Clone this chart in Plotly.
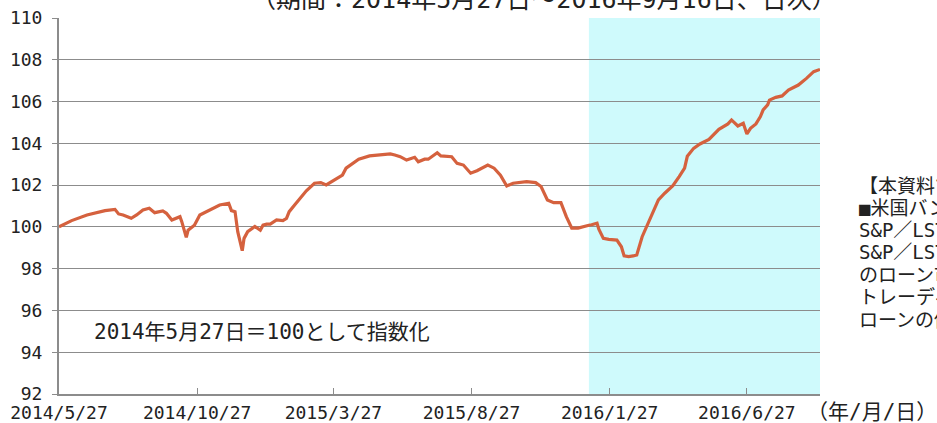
import plotly.graph_objects as go

dates = [
    "2014-05-27", "2014-06-10", "2014-06-27", "2014-07-17", "2014-07-28", "2014-08-01",
    "2014-08-06", "2014-08-15", "2014-08-21", "2014-08-28", "2014-09-04", "2014-09-10",
    "2014-09-19", "2014-09-23", "2014-09-29", "2014-10-03", "2014-10-08", "2014-10-10",
    "2014-10-15", "2014-10-17", "2014-10-24", "2014-10-30", "2014-11-06", "2014-11-14",
    "2014-11-21", "2014-12-01", "2014-12-04", "2014-12-08", "2014-12-11", "2014-12-16",
    "2014-12-18", "2014-12-22", "2014-12-30", "2015-01-05", "2015-01-08", "2015-01-12",
    "2015-01-16", "2015-01-23", "2015-01-30", "2015-02-03", "2015-02-06", "2015-02-12",
    "2015-02-18", "2015-02-25", "2015-03-06", "2015-03-13", "2015-03-19", "2015-03-27",
    "2015-04-06", "2015-04-10", "2015-04-17", "2015-04-24", "2015-05-06", "2015-05-18",
    "2015-05-29", "2015-06-03", "2015-06-09", "2015-06-16", "2015-06-25", "2015-06-29",
    "2015-07-06", "2015-07-10", "2015-07-20", "2015-07-24", "2015-08-05", "2015-08-11",
    "2015-08-18", "2015-08-26", "2015-09-02", "2015-09-14", "2015-09-21", "2015-09-28",
    "2015-10-05", "2015-10-12", "2015-10-27", "2015-11-06", "2015-11-12", "2015-11-19",
    "2015-11-26", "2015-12-04", "2015-12-10", "2015-12-16", "2015-12-23", "2016-01-04",
    "2016-01-07", "2016-01-13", "2016-01-15", "2016-01-20", "2016-01-26", "2016-02-04",
    "2016-02-09", "2016-02-12", "2016-02-17", "2016-02-22", "2016-02-26", "2016-03-03",
    "2016-03-14", "2016-03-21", "2016-03-28", "2016-04-06", "2016-04-13", "2016-04-19",
    "2016-04-22", "2016-04-29", "2016-05-06", "2016-05-16", "2016-05-27", "2016-06-06",
    "2016-06-10", "2016-06-17", "2016-06-23", "2016-06-27", "2016-07-01", "2016-07-07",
    "2016-07-12", "2016-07-15", "2016-07-20", "2016-07-22", "2016-07-29", "2016-08-05",
    "2016-08-12", "2016-08-23", "2016-09-01", "2016-09-09", "2016-09-16",
]
index_values = [
    100.00, 100.30, 100.57, 100.78, 100.84, 100.62,
    100.57, 100.41, 100.57, 100.81, 100.89, 100.68,
    100.76, 100.65, 100.33, 100.41, 100.49, 100.25,
    99.50, 99.84, 100.08, 100.57, 100.73, 100.92,
    101.05, 101.13, 100.78, 100.73, 99.77, 98.86,
    99.45, 99.77, 100.02, 99.84, 100.08, 100.13,
    100.13, 100.33, 100.30, 100.41, 100.73, 101.05,
    101.37, 101.73, 102.09, 102.12, 102.01, 102.21,
    102.48, 102.81, 103.04, 103.24, 103.40, 103.44,
    103.49, 103.44, 103.36, 103.20, 103.33, 103.12,
    103.24, 103.24, 103.55, 103.40, 103.36, 103.04,
    102.96, 102.57, 102.69, 102.96, 102.81, 102.48,
    101.96, 102.09, 102.17, 102.12, 101.93, 101.29,
    101.16, 101.16, 100.49, 99.94, 99.94, 100.08,
    100.10, 100.18, 99.89, 99.45, 99.40, 99.37,
    99.05, 98.61, 98.58, 98.61, 98.66, 99.53,
    100.65, 101.29, 101.61, 101.97, 102.41, 102.81,
    103.38, 103.76, 103.97, 104.19, 104.67, 104.93,
    105.12, 104.83, 104.96, 104.45, 104.72, 104.93,
    105.28, 105.60, 105.84, 106.07, 106.20, 106.27,
    106.55, 106.79, 107.11, 107.43, 107.54,
]

tick_dates = ["2014-05-27", "2014-10-27", "2015-03-27", "2015-08-27", "2016-01-27", "2016-06-27"]
tick_labels = ["2014/5/27", "2014/10/27", "2015/3/27", "2015/8/27", "2016/1/27", "2016/6/27"]
x_start, x_end = "2014-05-27", "2016-09-16"
shade_start = "2016-01-04"

title_text = "（期間：2014年5月27日～2016年9月16日、日次）"
note_text = "2014年5月27日＝100として指数化"
unit_text = "（年/月/日）"
side_lines = [
    "【本資料で使用した指数】",
    "■米国バンクローン：",
    "S&P／LSTAレバレッジド・ローン指数",
    "S&P／LSTAレバレッジド・ローン指数は米国",
    "のローン市場において、流通市場で",
    "トレーディングされている主要な",
    "ローンの価格動向を示す指数です。",
]

JP = "DejaVu Sans Mono, Noto Sans CJK JP, sans-serif"
TXT = "#222222"
GRID = "#8C8C8C"

fig = go.Figure()
fig.add_trace(go.Scatter(
    x=dates, y=index_values, mode="lines",
    line=dict(color="#D5613E", width=3.2), hoverinfo="skip", showlegend=False,
))

fig.add_shape(type="rect", xref="x", yref="paper", x0=shade_start, x1=x_end,
              y0=0, y1=1, fillcolor="#CFFAFC", line=dict(width=0), layer="below")

W, H = 937, 423
ml, mr, mt, mb = 59, 117, 18, 29
pw, ph = W - ml - mr, H - mt - mb

def px_x(px):
    return (px - ml) / pw

def px_y(py):
    return (H - mb - py) / ph

ann = [
    dict(text=title_text, x=px_x(544), y=px_y(-1), xanchor="center", yanchor="middle",
         font=dict(size=25)),
    dict(text=note_text, x=px_x(262), y=px_y(332), xanchor="center", yanchor="middle",
         font=dict(size=21)),
    dict(text=unit_text, x=px_x(805), y=px_y(412), xanchor="left", yanchor="middle",
         font=dict(size=21)),
]
line_y = [186, 208, 230, 252, 275, 297, 320]
for t, yy in zip(side_lines, line_y):
    ann.append(dict(text=t, x=px_x(857), y=px_y(yy), xanchor="left", yanchor="middle",
                    font=dict(size=19)))
for a in ann:
    a.update(xref="paper", yref="paper", showarrow=False)
    a["font"].update(family=JP, color=TXT)

fig.update_layout(
    width=W, height=H,
    margin=dict(l=ml, r=mr, t=mt, b=mb, pad=0, autoexpand=False),
    paper_bgcolor="white", plot_bgcolor="white",
    font=dict(family=JP, color=TXT, size=18),
    annotations=ann,
    showlegend=False,
)
fig.update_xaxes(
    type="date", range=[x_start, x_end], automargin=False,
    tickmode="array", tickvals=tick_dates, ticktext=tick_labels,
    showgrid=False, zeroline=False,
    showline=True, linecolor=GRID, linewidth=2,
    ticks="inside", ticklen=6, tickcolor=GRID, tickwidth=1,
    tickfont=dict(size=18, family=JP, color=TXT), ticklabelstandoff=1,
)
fig.update_yaxes(
    range=[92, 110], dtick=2, tick0=92, automargin=False,
    showgrid=True, gridcolor=GRID, gridwidth=1, zeroline=False,
    showline=True, linecolor=GRID, linewidth=2,
    ticks="outside", ticklen=5, tickcolor=GRID,
    tickfont=dict(size=18, family=JP, color=TXT), ticklabelstandoff=6,
)

fig.write_html(
    "out.html",
    config={"displayModeBar": False},
    post_script="document.body.style.margin='0px';document.body.style.overflow='hidden';",
)
